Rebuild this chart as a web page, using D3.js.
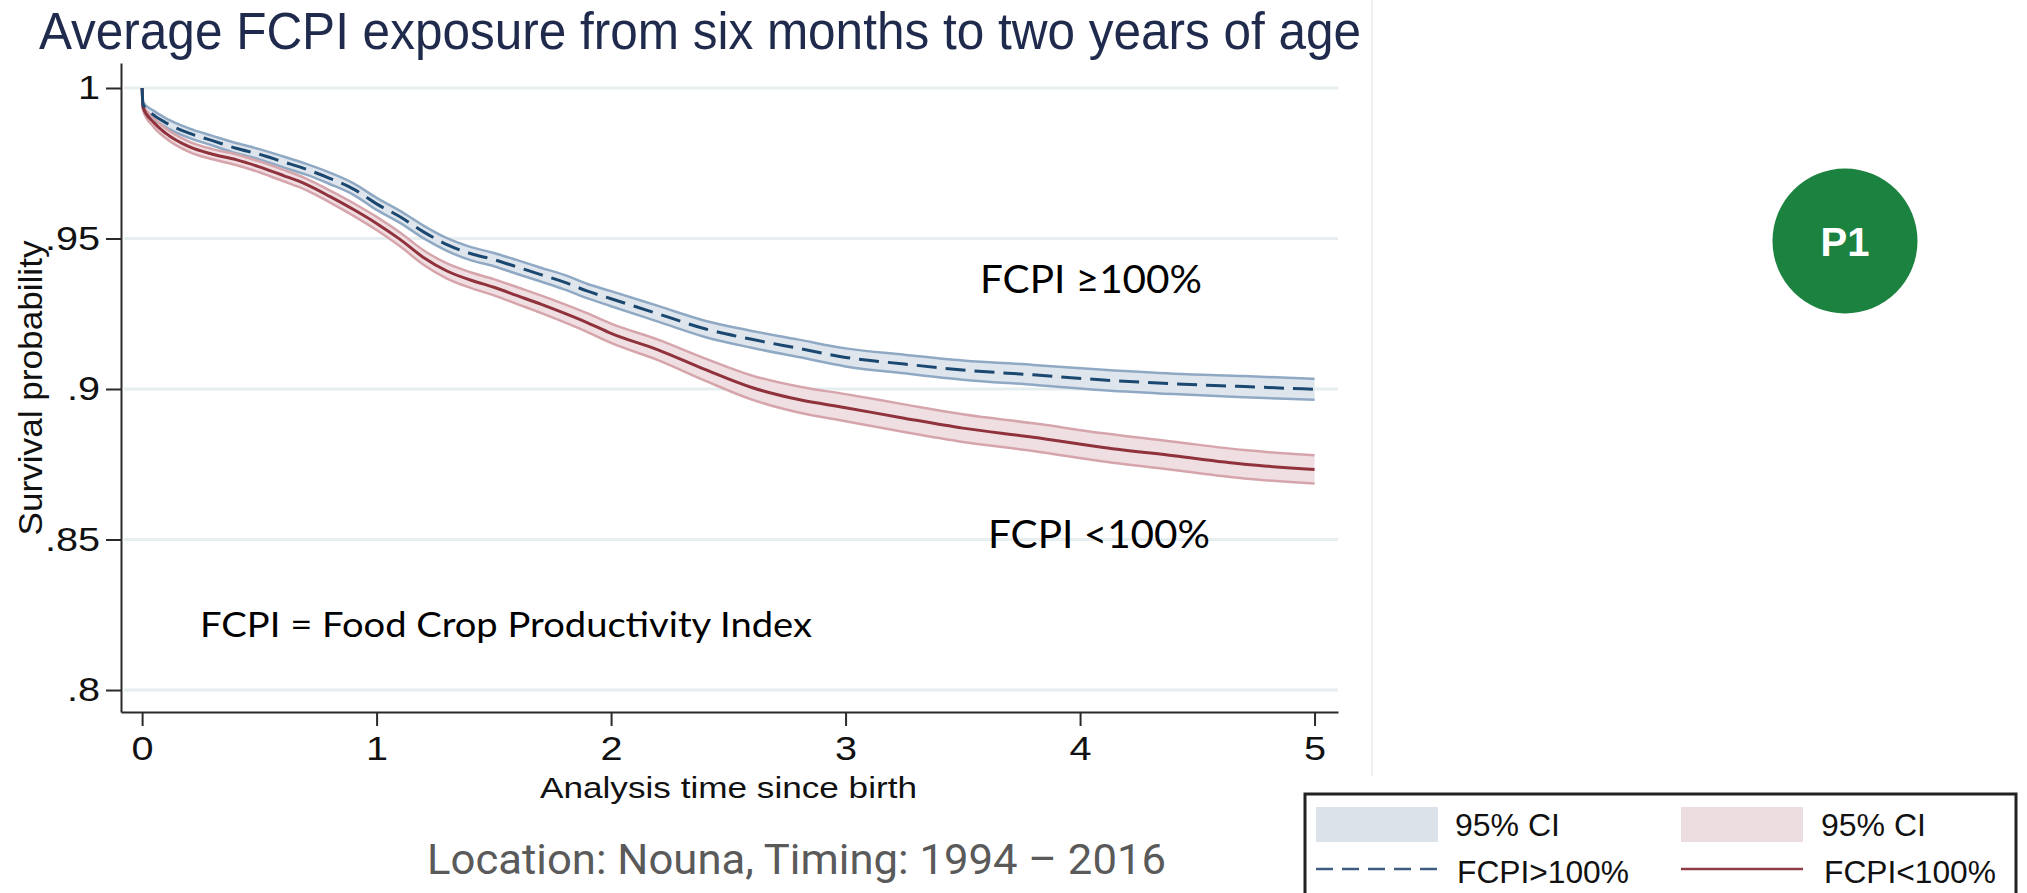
<!DOCTYPE html>
<html lang="en">
<head>
  <meta charset="utf-8">
  <title>FCPI survival</title>
  <script src="https://d3js.org/d3.v7.min.js"></script>
  <style>
    body { margin: 0; background: #ffffff; }
  </style>
</head>
<body>
<script type="text/javascript">

  // Analysis time since birth (years)
  var times = [0, 0.004, 0.05, 0.1, 0.2, 0.3, 0.4, 0.5, 0.6, 0.7, 0.8, 0.9, 1.0, 1.1, 1.2, 1.3, 1.4, 1.5,
               1.6, 1.7, 1.8, 1.9, 2.0, 2.2, 2.4, 2.6, 2.8, 3.0, 3.25, 3.5, 3.8, 4.1, 4.4, 4.7, 5.0];

  // FCPI >= 100% : survival and 95% CI
  var highSurv = [1, .9945, .991, .9885, .985, .9825, .980, .978, .9755, .973, .970, .9665, .9615, .9572, .9522, .948, .945, .943,
                  .9405, .938, .9355, .9325, .930, .925, .920, .9165, .9135, .9105, .9083, .9063, .9047, .903, .9017, .9008, .8999];
  var highHi   = [1, .9953, .9924, .9900, .9866, .9841, .9817, .9797, .9773, .9748, .9719, .9684, .9635, .9592, .9543, .9501, .9472, .9452,
                  .9428, .9403, .9379, .9349, .9325, .9276, .9227, .9193, .9164, .9135, .9114, .9095, .9080, .9064, .9051, .9043, .9034];
  var highLo   = [1, .9937, .9896, .9870, .9834, .9809, .9783, .9763, .9737, .9712, .9681, .9646, .9595, .9552, .9501, .9459, .9428, .9408,
                  .9382, .9357, .9331, .9301, .9275, .9224, .9173, .9137, .9106, .9075, .9052, .9031, .9014, .8996, .8983, .8973, .8964];

  // FCPI < 100% : survival and 95% CI
  var lowSurv = [1, .9935, .9885, .985, .9805, .978, .9762, .9738, .971, .968, .964, .9597, .955, .9497, .9437, .9392, .9362, .9338,
                 .931, .9282, .9252, .922, .9185, .913, .9065, .9005, .8965, .8938, .8903, .887, .884, .8806, .8778, .875, .8733];
  var lowHi   = [1, .9944, .9900, .9866, .9822, .9797, .9780, .9756, .9729, .9699, .9660, .9618, .9572, .9520, .9461, .9417, .9388, .9365,
                 .9338, .9311, .9282, .9251, .9217, .9164, .9102, .9045, .9008, .8983, .8949, .8916, .8886, .8853, .8825, .8797, .8780];
  var lowLo   = [1, .9926, .9870, .9834, .9788, .9763, .9744, .9720, .9691, .9661, .9620, .9576, .9528, .9474, .9413, .9367, .9336, .9311,
                 .9282, .9253, .9222, .9189, .9153, .9096, .9028, .8965, .8922, .8893, .8857, .8824, .8794, .8759, .8731, .8703, .8686];

  // axis ticks
  var xTicks = [0, 1, 2, 3, 4, 5];
  var xTickLabels = ["0", "1", "2", "3", "4", "5"];
  var yTicks = [0.8, 0.85, 0.9, 0.95, 1];
  var yTickLabels = [".8", ".85", ".9", ".95", "1"];

  var svg_width = 2027;
  var svg_height = 893;

  var svg = d3.select("body")
              .append("svg")
              .attr("width", svg_width)
              .attr("height", svg_height);

  // scales
  var xScale = d3.scaleLinear().domain([-0.09, 5.1]).range([121, 1338]);
  var yScale = d3.scaleLinear().domain([0.7927, 1.0083]).range([712, 63]);

  // faint divider on the right of the plot
  svg.append("line")
     .attr("x1", 1372).attr("x2", 1372)
     .attr("y1", 0).attr("y2", 776)
     .attr("stroke", "#edf1f3")
     .attr("stroke-width", 2);

  // title
  svg.append("text")
     .text("Average FCPI exposure from six months to two years of age")
     .attr("x", 39)
     .attr("y", 49)
     .attr("textLength", 1322)
     .attr("lengthAdjust", "spacingAndGlyphs")
     .attr("font-family", "'Liberation Sans', Arial, sans-serif")
     .attr("font-size", "51px")
     .attr("fill", "#1f2a4d");

  // gridlines
  svg.selectAll(".grid")
     .data(yTicks)
     .enter()
       .append("line")
       .attr("class", "grid")
       .attr("x1", 124)
       .attr("x2", 1338)
       .attr("y1", function(d) { return yScale(d); })
       .attr("y2", function(d) { return yScale(d); })
       .attr("stroke", "#e6eef0")
       .attr("stroke-width", 3);

  // confidence bands
  function band(lo, hi) {
    return d3.area()
             .curve(d3.curveMonotoneX)
             .x(function(d, i) { return xScale(times[i]); })
             .y0(function(d, i) { return yScale(lo[i]); })
             .y1(function(d, i) { return yScale(hi[i]); })(times);
  }
  function line(vals) {
    return d3.line()
             .curve(d3.curveMonotoneX)
             .x(function(d, i) { return xScale(times[i]); })
             .y(function(d, i) { return yScale(vals[i]); })(times);
  }

  svg.append("path").attr("d", band(highLo, highHi)).attr("fill", "#dfe5ec");
  svg.append("path").attr("d", band(lowLo, lowHi)).attr("fill", "#efdfe2");

  [highLo, highHi].forEach(function(v) {
    svg.append("path").attr("d", line(v)).attr("fill", "none")
       .attr("stroke", "#8fa9c4").attr("stroke-width", 2.5);
  });
  [lowLo, lowHi].forEach(function(v) {
    svg.append("path").attr("d", line(v)).attr("fill", "none")
       .attr("stroke", "#d6a5ab").attr("stroke-width", 2.5);
  });

  // survival lines
  svg.append("path").attr("d", line(lowSurv)).attr("fill", "none")
     .attr("stroke", "#90323c").attr("stroke-width", 3);
  svg.append("path").attr("d", line(highSurv)).attr("fill", "none")
     .attr("stroke", "#1b4870").attr("stroke-width", 3)
     .attr("stroke-dasharray", "20,9");

  // axes
  var xAxis = d3.axisBottom(xScale)
                .tickValues(xTicks)
                .tickFormat(function(d, i) { return xTickLabels[i]; })
                .tickSize(14)
                .tickSizeOuter(0)
                .tickPadding(11);
  var yAxis = d3.axisLeft(yScale)
                .tickValues(yTicks)
                .tickFormat(function(d, i) { return yTickLabels[i]; })
                .tickSize(15)
                .tickSizeOuter(0)
                .tickPadding(6);

  var gx = svg.append("g").attr("transform", "translate(0,712)").call(xAxis);
  var gy = svg.append("g").attr("transform", "translate(121,0)").call(yAxis);

  gx.selectAll("text").attr("font-size", "33px");
  gy.selectAll("text").attr("font-size", "33px");
  [gx, gy].forEach(function(g) {
    g.select(".domain").attr("stroke", "#2a2a2a").attr("stroke-width", 2);
    g.selectAll(".tick line").attr("stroke", "#2a2a2a").attr("stroke-width", 2);
    g.selectAll("text")
     .attr("font-family", "'Liberation Sans', Arial, sans-serif")
     .attr("fill", "#111")
     .each(function() {
       // Stata glyphs here are a little wider than Arial
       var w = this.getComputedTextLength();
       d3.select(this).attr("textLength", w * 1.2).attr("lengthAdjust", "spacingAndGlyphs");
     });
  });

  // axis titles
  svg.append("text")
     .text("Survival probability")
     .attr("transform", "translate(42,388) rotate(-90)")
     .attr("text-anchor", "middle")
     .attr("textLength", 295)
     .attr("lengthAdjust", "spacingAndGlyphs")
     .attr("font-family", "'Liberation Sans', Arial, sans-serif")
     .attr("font-size", "34px")
     .attr("fill", "#111");

  svg.append("text")
     .text("Analysis time since birth")
     .attr("x", 540)
     .attr("y", 798)
     .attr("textLength", 377)
     .attr("lengthAdjust", "spacingAndGlyphs")
     .attr("font-family", "'Liberation Sans', Arial, sans-serif")
     .attr("font-size", "29px")
     .attr("fill", "#111");

  // annotations
  var notes = [
    { t: "FCPI \u2265100%", x: 980, y: 293, w: 222, s: 39 },
    { t: "FCPI <100%", x: 988, y: 548, w: 222, s: 39 },
    { t: "FCPI = Food Crop Productivity Index", x: 200, y: 637, w: 612, s: 35 }
  ];
  svg.selectAll(".note")
     .data(notes)
     .enter()
       .append("text")
       .attr("class", "note")
       .text(function(d) { return d.t; })
       .attr("x", function(d) { return d.x; })
       .attr("y", function(d) { return d.y; })
       .attr("textLength", function(d) { return d.w; })
       .attr("lengthAdjust", "spacingAndGlyphs")
       .attr("font-family", "Lato, 'Open Sans', sans-serif")
       .attr("font-size", function(d) { return d.s + "px"; })
       .attr("fill", "#000");

  svg.append("text")
     .text("Location: Nouna, Timing: 1994 \u2013 2016")
     .attr("x", 427)
     .attr("y", 874)
     .attr("textLength", 739)
     .attr("lengthAdjust", "spacingAndGlyphs")
     .attr("font-family", "Roboto, sans-serif")
     .attr("font-size", "42px")
     .attr("fill", "#5a5a5a");

  // P1 badge
  svg.append("circle")
     .attr("cx", 1845).attr("cy", 241).attr("r", 72.5)
     .attr("fill", "#1b8240");
  svg.append("text")
     .text("P1")
     .attr("x", 1845).attr("y", 256)
     .attr("text-anchor", "middle")
     .attr("font-family", "'Liberation Sans', Arial, sans-serif")
     .attr("font-weight", "bold")
     .attr("font-size", "40px")
     .attr("fill", "#ffffff");

  // legend
  var legend = svg.append("g");
  legend.append("rect")
        .attr("x", 1305).attr("y", 794)
        .attr("width", 711).attr("height", 120)
        .attr("fill", "#ffffff")
        .attr("stroke", "#222")
        .attr("stroke-width", 3);

  var legendItems = [
    { kind: "area", fill: "#dce2ea", x: 1316, label: "95% CI", lx: 1455, row: 0 },
    { kind: "area", fill: "#ecdde0", x: 1681, label: "95% CI", lx: 1821, row: 0 },
    { kind: "dash", stroke: "#3d5c80", x: 1316, label: "FCPI>100%", lx: 1457, row: 1 },
    { kind: "line", stroke: "#8e3d47", x: 1681, label: "FCPI<100%", lx: 1824, row: 1 }
  ];
  legendItems.forEach(function(d) {
    if (d.kind == "area") {
      legend.append("rect")
            .attr("x", d.x).attr("y", 807)
            .attr("width", 122).attr("height", 35)
            .attr("fill", d.fill);
    } else {
      legend.append("line")
            .attr("x1", d.x).attr("x2", d.x + 122)
            .attr("y1", 869).attr("y2", 869)
            .attr("stroke", d.stroke)
            .attr("stroke-width", 2.5)
            .attr("stroke-dasharray", d.kind == "dash" ? "17,9" : null);
    }
    legend.append("text")
          .text(d.label)
          .attr("x", d.lx)
          .attr("y", d.row == 0 ? 836 : 883)
          .attr("font-family", "'Liberation Sans', Arial, sans-serif")
          .attr("font-size", "31px")
          .attr("textLength", d.row == 0 ? 105 : 172)
          .attr("lengthAdjust", "spacingAndGlyphs")
          .attr("fill", "#111");
  });

</script>
</body>
</html>
